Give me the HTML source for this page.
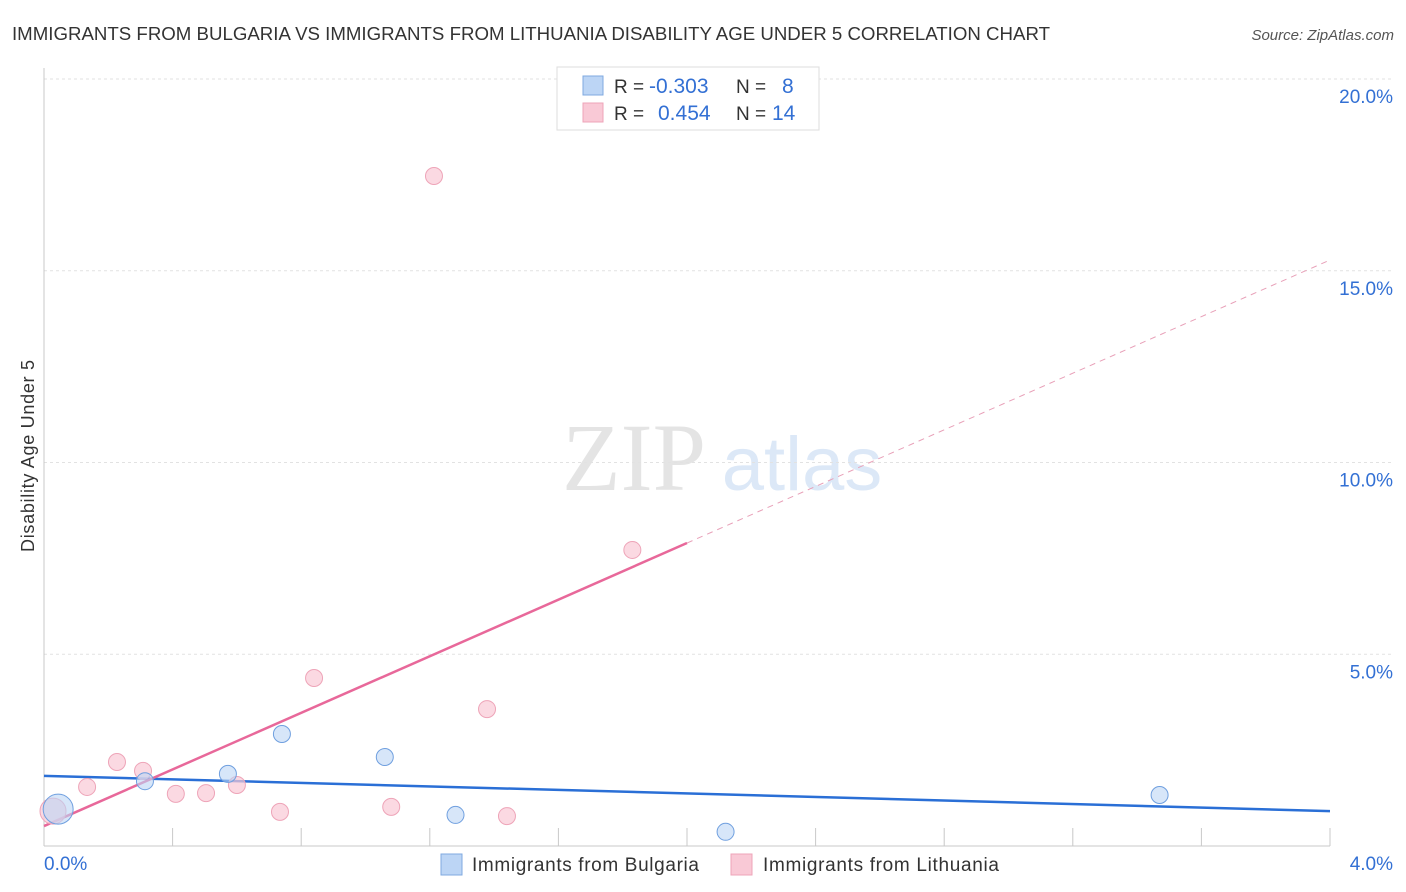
<!DOCTYPE html>
<html><head><meta charset="utf-8"><style>
body{margin:0;background:#fff;font-family:"Liberation Sans",sans-serif;}
#wrap{position:relative;width:1406px;height:892px;overflow:hidden;}
</style></head><body>
<div id="wrap">
<svg id="svg" width="1406" height="892" xmlns="http://www.w3.org/2000/svg">
<text x="12" y="40" font-size="18" fill="#333" textLength="1038" lengthAdjust="spacingAndGlyphs">IMMIGRANTS FROM BULGARIA VS IMMIGRANTS FROM LITHUANIA DISABILITY AGE UNDER 5 CORRELATION CHART</text>
<text x="1394" y="40" font-size="15" fill="#555" font-style="italic" text-anchor="end">Source: ZipAtlas.com</text>
<text x="34" y="456" font-size="18" fill="#333" text-anchor="middle" transform="rotate(-90 34 456)" textLength="192">Disability Age Under 5</text>
<g>
<text x="634" y="490" font-size="96" fill="#e4e4e4" font-family="Liberation Serif,serif" text-anchor="middle">ZIP</text>
<text x="802" y="490" font-size="76" fill="#dce8f7" text-anchor="middle">atlas</text>
</g>
<g id="grid"></g><g id="axes"></g><g id="lines"></g><g id="pts"></g>
<g>
<rect x="557" y="67" width="262" height="63" fill="#fff" stroke="#ddd"/>
<rect x="583" y="76" width="20" height="19" fill="#bcd5f5" stroke="#7fa9e0"/>
<rect x="583" y="103" width="20" height="19" fill="#f9c9d6" stroke="#eea4b8"/>
<text x="614" y="93" font-size="19" fill="#333">R = <tspan x="649" fill="#3370d4" font-size="21">-0.303</tspan><tspan x="736">N = </tspan><tspan x="782" fill="#3370d4" font-size="21">8</tspan></text>
<text x="614" y="120" font-size="19" fill="#333">R = <tspan x="658" fill="#3370d4" font-size="21">0.454</tspan><tspan x="736">N = </tspan><tspan x="772" fill="#3370d4" font-size="21">14</tspan></text>
</g>
<g>
<rect x="441" y="854" width="21" height="21" fill="#bcd5f5" stroke="#7fa9e0"/>
<text x="472" y="871" font-size="19" fill="#333" textLength="227">Immigrants from Bulgaria</text>
<rect x="731" y="854" width="21" height="21" fill="#f9c9d6" stroke="#eea4b8"/>
<text x="763" y="871" font-size="19" fill="#333" textLength="236">Immigrants from Lithuania</text>
</g>
</svg>
</div>
<script>
const yTicks=[5,10,15,20];
const yTickLabels=["5.0%","10.0%","15.0%","20.0%"];
const xTickLabels=["0.0%","4.0%"];
const bulgariaX=[0.044,0.314,0.572,0.74,1.06,1.28,2.12,3.47];
const bulgariaY=[0.96,1.69,1.88,2.92,2.32,0.81,0.37,1.33];
const lithuaniaX=[0.028,0.134,0.227,0.308,0.41,0.504,0.60,0.734,0.84,1.08,1.213,1.378,1.44,1.83];
const lithuaniaY=[0.91,1.54,2.19,1.96,1.36,1.38,1.59,0.89,4.38,1.02,17.47,3.57,0.78,7.72];
const bulgariaTrend=[1.83,0.91];
const lithuaniaTrend=[0.52,15.28];
const NS="http://www.w3.org/2000/svg";
const X=v=>44+v/4*1286, Y=v=>846-v*38.35;
function mk(tag,attrs,parent){const e=document.createElementNS(NS,tag);for(const k in attrs)e.setAttribute(k,attrs[k]);document.getElementById(parent).appendChild(e);return e;}
yTicks.forEach((t,i)=>{
 const g=mk('line',{x1:44,x2:1392,y1:Y(t),y2:Y(t),stroke:'#e2e2e2','stroke-dasharray':'3,3'},'grid');
 
 
 const l=mk('text',{x:1393,y:Y(t)+24,'font-size':19,fill:'#3370d4','text-anchor':'end'},'grid');
 l.textContent=yTickLabels[i];
 
 
});
mk('line',{x1:44,x2:44,y1:68,y2:846,stroke:'#c8c8c8'},'axes');
mk('line',{x1:44,x2:1330,y1:846,y2:846,stroke:'#c8c8c8'},'axes');
for(let i=1;i<=10;i++){mk('line',{x1:X(i*0.4),x2:X(i*0.4),y1:828,y2:846,stroke:'#c8c8c8'},'axes');}
const xl0=mk('text',{x:44,y:870,'font-size':19,fill:'#3370d4'},'axes');xl0.textContent=xTickLabels[0];


const xl1=mk('text',{x:1393,y:870,'font-size':19,fill:'#3370d4','text-anchor':'end'},'axes');xl1.textContent=xTickLabels[1];


lithuaniaX.forEach((x,i)=>{
 const r=i===0?13:8.5;
 const c=mk('circle',{cx:X(x),cy:Y(lithuaniaY[i]),r:r,fill:'#f9c9d6','fill-opacity':0.7,stroke:'#eea4b8'},'pts');
 
 
});
bulgariaX.forEach((x,i)=>{
 const r=i===0?15:8.5;
 const c=mk('circle',{cx:X(x),cy:Y(bulgariaY[i]),r:r,fill:'#bcd5f5','fill-opacity':0.6,stroke:'#6f9fdf'},'pts');
 
 
});
const bl=mk('line',{x1:X(0),y1:Y(bulgariaTrend[0]),x2:X(4),y2:Y(bulgariaTrend[1]),stroke:'#2a6fd6','stroke-width':2.5},'lines');


const ly=x=>lithuaniaTrend[0]+(lithuaniaTrend[1]-lithuaniaTrend[0])*x/4;
const pl=mk('line',{x1:X(0),y1:Y(ly(0)),x2:X(2),y2:Y(ly(2)),stroke:'#e8689a','stroke-width':2.5},'lines');


const pd=mk('line',{x1:X(2),y1:Y(ly(2)),x2:X(4),y2:Y(ly(4)),stroke:'#e8a0b8','stroke-width':1,'stroke-dasharray':'6,5'},'lines');


</script>
</body></html>
